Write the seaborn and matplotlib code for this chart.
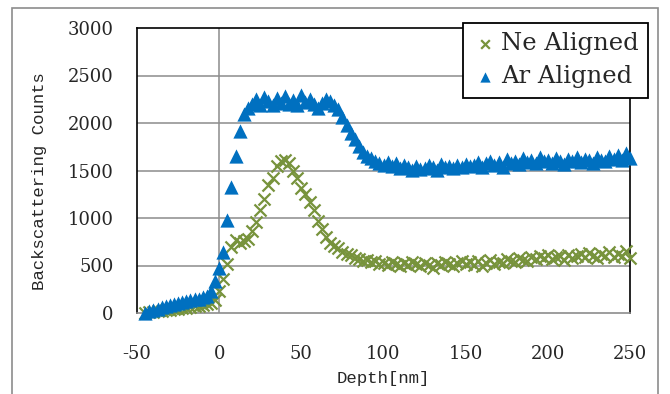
import matplotlib
matplotlib.use("Agg")
import matplotlib.pyplot as plt
import numpy as np
import pandas as pd
import seaborn as sns
from matplotlib.patches import Rectangle

# depth [nm]
depth = [-45.0, -42.5, -40.0, -37.5, -35.0, -32.5, -30.0, -27.5, -25.0, -22.5,
         -20.0, -17.5, -15.0, -12.5, -10.0, -7.5, -5.0, -2.5, 0.0, 2.5,
         5.0, 7.5, 10.0, 12.5, 15.0, 17.5, 20.0, 22.5, 25.0, 27.5,
         30.0, 32.5, 35.0, 37.5, 40.0, 42.5, 45.0, 47.5, 50.0, 52.5,
         55.0, 57.5, 60.0, 62.5, 65.0, 67.5, 70.0, 72.5, 75.0, 77.5,
         80.0, 82.5, 85.0, 87.5, 90.0, 92.5, 95.0, 97.5, 100.0, 102.5,
         105.0, 107.5, 110.0, 112.5, 115.0, 117.5, 120.0, 122.5, 125.0, 127.5,
         130.0, 132.5, 135.0, 137.5, 140.0, 142.5, 145.0, 147.5, 150.0, 152.5,
         155.0, 157.5, 160.0, 162.5, 165.0, 167.5, 170.0, 172.5, 175.0, 177.5,
         180.0, 182.5, 185.0, 187.5, 190.0, 192.5, 195.0, 197.5, 200.0, 202.5,
         205.0, 207.5, 210.0, 212.5, 215.0, 217.5, 220.0, 222.5, 225.0, 227.5,
         230.0, 232.5, 235.0, 237.5, 240.0, 242.5, 245.0, 247.5, 250.0]

ne_counts = [5, 10, 15, 20, 25, 30, 35, 40, 45, 50,
             55, 60, 70, 75, 85, 95, 110, 140, 230, 360,
             520, 700, 770, 740, 760, 780, 860, 960, 1080, 1200,
             1350, 1420, 1550, 1600, 1610, 1580, 1500, 1420, 1320, 1250,
             1170, 1080, 970, 880, 800, 740, 710, 680, 640, 620,
             610, 580, 570, 550, 560, 540, 550, 520, 530, 510,
             540, 520, 500, 530, 510, 540, 520, 500, 530, 510,
             470, 530, 510, 540, 520, 500, 530, 550, 520, 540,
             510, 550, 500, 530, 560, 520, 540, 530, 570, 550,
             540, 580, 560, 550, 590, 570, 600, 580, 610, 570,
             590, 600, 560, 610, 580, 600, 620, 590, 630, 600,
             580, 620, 600, 640, 590, 620, 600, 650, 580]

ar_counts = [5, 20, 35, 45, 60, 70, 85, 95, 105, 115,
             125, 135, 145, 150, 165, 175, 230, 340, 470, 640,
             980, 1330, 1650, 1920, 2090, 2160, 2200, 2250, 2190, 2270,
             2230, 2190, 2260, 2210, 2280, 2200, 2240, 2190, 2290, 2220,
             2250, 2200, 2160, 2210, 2250, 2230, 2190, 2150, 2060, 1980,
             1900, 1830, 1760, 1690, 1650, 1630, 1600, 1580, 1560, 1590,
             1550, 1580, 1530, 1560, 1540, 1510, 1550, 1520, 1530, 1560,
             1540, 1510, 1570, 1540, 1550, 1530, 1560, 1540, 1570, 1550,
             1560, 1590, 1540, 1580, 1600, 1560, 1590, 1540, 1620, 1580,
             1600, 1570, 1630, 1590, 1610, 1580, 1640, 1600, 1610, 1580,
             1630, 1600, 1570, 1620, 1600, 1640, 1590, 1620, 1610, 1580,
             1640, 1610, 1600, 1650, 1620, 1660, 1610, 1680, 1630]

x_ticks = [-50, 0, 50, 100, 150, 200, 250]
y_ticks = [0, 500, 1000, 1500, 2000, 2500, 3000]

df = pd.DataFrame({"depth": depth, "ne": ne_counts, "ar": ar_counts})

sns.set_style("white")
plt.rcParams["font.family"] = ["DejaVu Serif"]
plt.rcParams["axes.unicode_minus"] = False

green = "#77933C"
blue = "#0070C0"
grid_gray = "#8C8C8C"

fig = plt.figure(figsize=(6.7, 3.94), dpi=100)
ax = fig.add_axes([137 / 670, 1 - 313 / 394, (630 - 137) / 670, (313 - 28) / 394])

for yt in y_ticks[1:-1]:
    ax.axhline(yt, color=grid_gray, lw=1.1, zorder=0)
ax.axvline(0, color=grid_gray, lw=1.1, zorder=0)

sns.scatterplot(data=df, x="depth", y="ne", marker="x", color=green, s=75,
                linewidth=1.6, label="Ne Aligned", ax=ax, clip_on=False, zorder=3)
sns.scatterplot(data=df, x="depth", y="ar", marker="^", color=blue, s=105,
                linewidth=0, label="Ar Aligned", ax=ax, clip_on=False, zorder=4)

ax.set_xlim(-50, 250)
ax.set_ylim(0, 3000)
ax.set_xticks(x_ticks)
ax.set_yticks(y_ticks)
ax.tick_params(axis="both", length=0, labelsize=13)
ax.tick_params(axis="y", pad=17)
ax.tick_params(axis="x", pad=23)

for side in ["top", "left", "right"]:
    ax.spines[side].set_color("black")
    ax.spines[side].set_linewidth(1.2)
ax.spines["bottom"].set_color(grid_gray)
ax.spines["bottom"].set_linewidth(1.2)

ax.set_xlabel("Depth[nm]", fontsize=12.5, family=["Liberation Mono", "DejaVu Sans Mono"])
ax.set_ylabel("Backscattering Counts", fontsize=12.5, family=["Liberation Mono", "DejaVu Sans Mono"])
ax.xaxis.set_label_coords(0.5, -(378 - 313) / 285, transform=ax.transAxes)
ax.yaxis.set_label_coords((40 - 137) / 493, (313 - 181) / 285, transform=ax.transAxes)
ax.xaxis.label.set_va("center")
ax.yaxis.label.set_va("center")

leg = ax.legend(loc="upper right", bbox_to_anchor=(648 / 670, 1 - 22.7 / 394),
                bbox_transform=fig.transFigure, fontsize=17.5, frameon=True,
                fancybox=False, edgecolor="black", framealpha=1,
                handletextpad=0.15, handlelength=1.0, borderpad=0.4,
                labelspacing=0.4, markerscale=0.72, borderaxespad=0)
leg.get_frame().set_linewidth(1.3)
leg.set_zorder(10)

fig.patches.append(Rectangle((11.7 / 670, -0.05), (658 - 11.7) / 670, 1.05 - 8 / 394,
                             transform=fig.transFigure, fill=False,
                             edgecolor="#8C8C8C", lw=1.2))

fig.savefig("out.png", dpi=100)
